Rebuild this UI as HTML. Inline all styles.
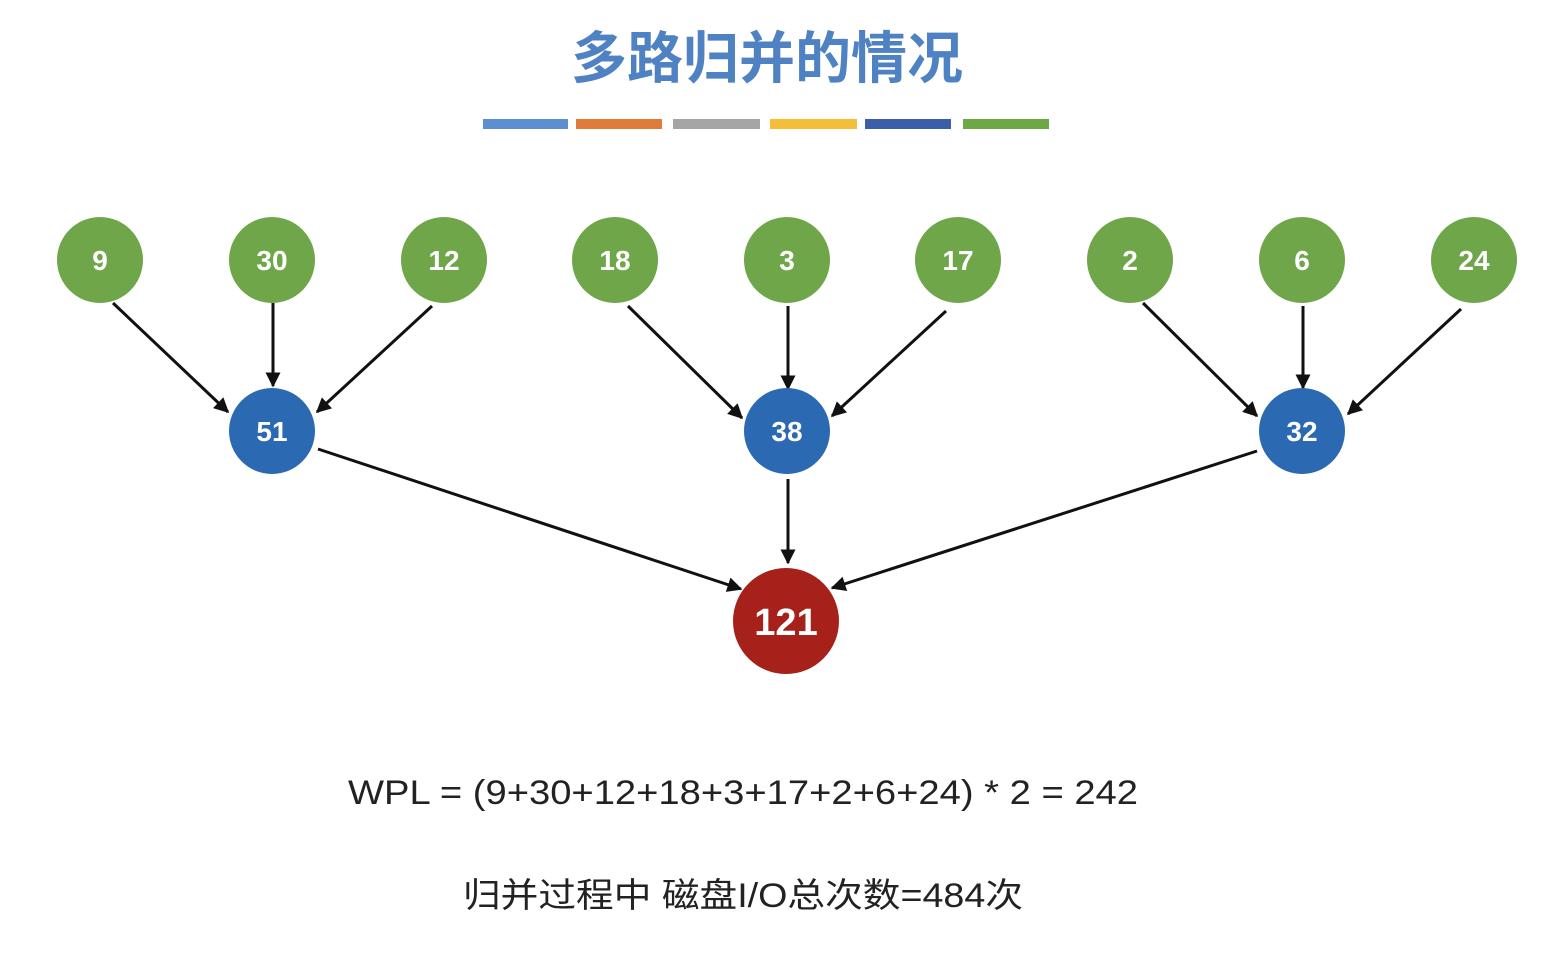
<!DOCTYPE html>
<html><head><meta charset="utf-8"><style>
html,body{margin:0;padding:0;background:#fff;}
svg{display:block;}
</style></head><body>
<svg width="1549" height="979" viewBox="0 0 1549 979" xmlns="http://www.w3.org/2000/svg">
<defs>
<marker id="ah" viewBox="0 0 10 10" refX="9" refY="5" markerWidth="6" markerHeight="5" markerUnits="strokeWidth" orient="auto">
<path d="M0,0 L10,5 L0,10 z" fill="#111"/>
</marker>
</defs>
<rect width="1549" height="979" fill="#fff"/>
<text x="767" y="78" text-anchor="middle" font-family="'Liberation Sans','Noto Sans CJK SC',sans-serif" font-size="56" font-weight="bold" fill="#4f82c3">多路归并的情况</text>
<rect x="483" y="119" width="85" height="10" fill="#5b8fd0"/>
<rect x="576" y="119" width="86" height="10" fill="#e07b39"/>
<rect x="673" y="119" width="87" height="10" fill="#a5a5a5"/>
<rect x="770" y="119" width="87" height="10" fill="#f4be3b"/>
<rect x="865" y="119" width="86" height="10" fill="#3c5da8"/>
<rect x="963" y="119" width="86" height="10" fill="#6ea845"/>

<g stroke="#111" stroke-width="3" marker-end="url(#ah)">
<line x1="113" y1="303" x2="228" y2="412"/>
<line x1="273" y1="303" x2="273" y2="386"/>
<line x1="432" y1="306" x2="317" y2="412"/>
<line x1="628" y1="306" x2="742" y2="418"/>
<line x1="788" y1="306" x2="788" y2="389"/>
<line x1="946" y1="311" x2="832" y2="416"/>
<line x1="1143" y1="303" x2="1257" y2="416"/>
<line x1="1303" y1="306" x2="1303" y2="388"/>
<line x1="1461" y1="309" x2="1348" y2="414"/>
<line x1="318" y1="449" x2="741" y2="589"/>
<line x1="788" y1="479" x2="788" y2="563"/>
<line x1="1257" y1="451" x2="832" y2="588"/>
</g>

<g fill="#70a64a">
<circle cx="100" cy="260" r="43"/><circle cx="272" cy="260" r="43"/><circle cx="444" cy="260" r="43"/>
<circle cx="615" cy="260" r="43"/><circle cx="787" cy="260" r="43"/><circle cx="958" cy="260" r="43"/>
<circle cx="1130" cy="260" r="43"/><circle cx="1302" cy="260" r="43"/><circle cx="1474" cy="260" r="43"/>
</g>
<g fill="#2b69b2">
<circle cx="272" cy="431" r="43"/><circle cx="787" cy="431" r="43"/><circle cx="1302" cy="431" r="43"/>
</g>
<circle cx="786" cy="621" r="53" fill="#a52119"/>

<g font-family="'Liberation Sans',sans-serif" font-weight="bold" fill="#fff" text-anchor="middle" font-size="28">
<text x="100" y="270">9</text><text x="272" y="270">30</text><text x="444" y="270">12</text>
<text x="615" y="270">18</text><text x="787" y="270">3</text><text x="958" y="270">17</text>
<text x="1130" y="270">2</text><text x="1302" y="270">6</text><text x="1474" y="270">24</text>
<text x="272" y="441">51</text><text x="787" y="441">38</text><text x="1302" y="441">32</text>
<text x="786" y="635" font-size="38">121</text>
</g>

<text x="348" y="804" font-family="'Liberation Sans',sans-serif" font-size="34" fill="#222" textLength="790" lengthAdjust="spacingAndGlyphs">WPL = (9+30+12+18+3+17+2+6+24) * 2 = 242</text>
<text x="463" y="907" font-family="'Liberation Sans','Noto Sans CJK SC',sans-serif" font-size="34" fill="#222" textLength="560" lengthAdjust="spacingAndGlyphs">归并过程中 磁盘I/O总次数=484次</text>
</svg>
</body></html>
